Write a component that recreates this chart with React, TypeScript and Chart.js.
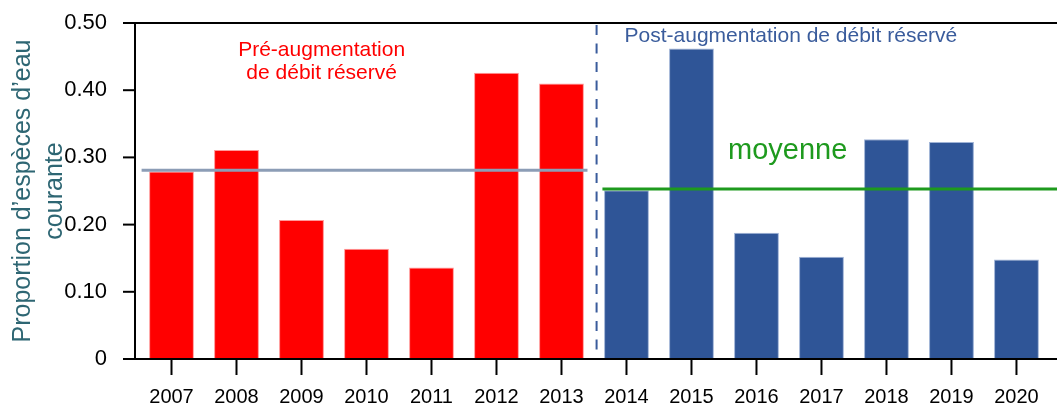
import React, { useEffect, useRef } from "react";
import { Chart, registerables } from "chart.js";

Chart.register(...registerables);

const years = ["2007", "2008", "2009", "2010", "2011", "2012", "2013", "2014", "2015", "2016", "2017", "2018", "2019", "2020"];
const preValues = [0.279, 0.311, 0.207, 0.164, 0.136, 0.426, 0.41, null, null, null, null, null, null, null];
const postValues = [null, null, null, null, null, null, null, 0.251, 0.462, 0.188, 0.152, 0.327, 0.323, 0.148];
const meanPre = 0.281;
const meanPost = 0.253;
const yTicks = [0, 0.1, 0.2, 0.3, 0.4, 0.5];
const yTitle = ["Proportion d\u2019espèces d\u2019eau", "courante"];
const preLabel = ["Pré-augmentation", "de débit réservé"];
const postLabel = "Post-augmentation de débit réservé";
const meanLabel = "moyenne";

const FONT = "'Liberation Sans', Arial, sans-serif";

const overlay = {
  id: "overlay",
  afterDatasetsDraw(chart: any) {
    const { ctx, chartArea, scales } = chart;
    const x = scales.x;
    const y = scales.y;
    const W = chart.width;
    ctx.save();
    // mean lines
    ctx.lineWidth = 3;
    ctx.strokeStyle = "#8c9db6";
    ctx.beginPath();
    ctx.moveTo(x.getPixelForValue(-0.46), y.getPixelForValue(meanPre));
    ctx.lineTo(x.getPixelForValue(6.4), y.getPixelForValue(meanPre));
    ctx.stroke();
    ctx.strokeStyle = "#1e9a1e";
    ctx.lineWidth = 3;
    ctx.beginPath();
    ctx.moveTo(x.getPixelForValue(6.63), y.getPixelForValue(meanPost));
    ctx.lineTo(W, y.getPixelForValue(meanPost));
    ctx.stroke();
    // dashed separator
    const sx = x.getPixelForValue(6.54);
    ctx.strokeStyle = "#3a5c9c";
    ctx.lineWidth = 2;
    ctx.setLineDash([10, 8.5]);
    ctx.beginPath();
    ctx.moveTo(sx, chartArea.top + 2);
    ctx.lineTo(sx, chartArea.bottom);
    ctx.stroke();
    ctx.setLineDash([]);
    // axes
    const axL = chartArea.left - 4;
    ctx.strokeStyle = "#000";
    ctx.lineWidth = 2;
    ctx.beginPath();
    ctx.moveTo(axL, chartArea.top);
    ctx.lineTo(axL, chartArea.bottom);
    ctx.stroke();
    ctx.beginPath();
    ctx.moveTo(axL - 12, y.getPixelForValue(0.5));
    ctx.lineTo(W, y.getPixelForValue(0.5));
    ctx.stroke();
    ctx.beginPath();
    ctx.moveTo(axL - 12, y.getPixelForValue(0));
    ctx.lineTo(W, y.getPixelForValue(0));
    ctx.stroke();
    yTicks.forEach((v) => {
      const py = y.getPixelForValue(v);
      ctx.beginPath();
      ctx.moveTo(axL - 12, py);
      ctx.lineTo(axL, py);
      ctx.stroke();
    });
    years.forEach((_, i) => {
      const px = x.getPixelForValue(i);
      ctx.beginPath();
      ctx.moveTo(px, chartArea.bottom);
      ctx.lineTo(px, chartArea.bottom + 16);
      ctx.stroke();
    });
    // texts
    ctx.textBaseline = "middle";
    ctx.textAlign = "center";
    ctx.fillStyle = "#ff0000";
    ctx.font = `21px ${FONT}`;
    ctx.fillText(preLabel[0], x.getPixelForValue(2.31), y.getPixelForValue(0.46));
    ctx.fillText(preLabel[1], x.getPixelForValue(2.31), y.getPixelForValue(0.425));
    ctx.fillStyle = "#3a5c9c";
    ctx.textAlign = "left";
    ctx.fillText(postLabel, x.getPixelForValue(6.97), y.getPixelForValue(0.481));
    ctx.fillStyle = "#1e9a1e";
    ctx.textAlign = "center";
    ctx.font = `29px ${FONT}`;
    ctx.fillText(meanLabel, x.getPixelForValue(9.48), y.getPixelForValue(0.309));
    ctx.restore();
  },
};

export default function App() {
  const ref = useRef<HTMLCanvasElement>(null);
  useEffect(() => {
    document.body.style.margin = "0";
    const chart = new Chart(ref.current!, {
      type: "bar",
      data: {
        labels: years,
        datasets: [
          {
            data: preValues as any,
            backgroundColor: "#ff0000",
            borderColor: "#ff9a9a",
            borderWidth: 1,
            grouped: false,
            barPercentage: 0.69,
            categoryPercentage: 1,
          } as any,
          {
            data: postValues as any,
            backgroundColor: "#2f5597",
            borderColor: "#9fb3d6",
            borderWidth: 1,
            grouped: false,
            barPercentage: 0.69,
            categoryPercentage: 1,
          } as any,
        ],
      },
      options: {
        animation: false,
        responsive: false,
        maintainAspectRatio: false,
        layout: { padding: { left: 0, right: 8, top: 23, bottom: 0 } },
        plugins: { legend: { display: false }, tooltip: { enabled: false } },
        scales: {
          x: {
            grid: { display: false },
            border: { display: false },
            ticks: { color: "#000", font: { family: FONT, size: 20 }, padding: 18, maxRotation: 0 },
            afterFit: (s: any) => {
              s.height = 406 - 359;
            },
          },
          y: {
            min: 0,
            max: 0.5,
            grid: { display: false },
            border: { display: false },
            ticks: {
              stepSize: 0.1,
              color: "#000",
              font: { family: FONT, size: 22 },
              padding: 24,
              callback: (v: any) => (Number(v) === 0 ? "0" : Number(v).toFixed(2)),
            },
            title: {
              display: true,
              text: yTitle,
              color: "#2e6673",
              font: { family: FONT, size: 25, lineHeight: 1.28 },
              padding: { top: 7, bottom: 0 },
            },
            afterFit: (s: any) => {
              s.width = 139;
              s.paddingTop = 0;
              s.paddingBottom = 0;
            },
          },
        },
      },
      plugins: [overlay],
    });
    return () => chart.destroy();
  }, []);
  return (
    <div style={{ width: 1057, height: 406 }}>
      <canvas ref={ref} width={1057} height={406} style={{ display: "block" }} />
    </div>
  );
}
